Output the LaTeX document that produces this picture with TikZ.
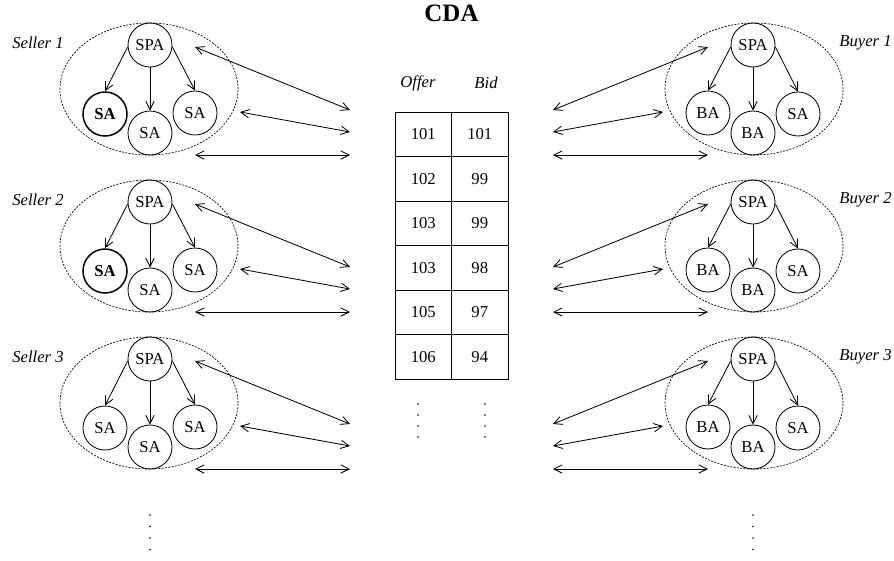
\documentclass[tikz,border=0pt]{standalone}
\usepackage{fontspec}
\setmainfont{Liberation Serif}
\usetikzlibrary{arrows.meta,shapes.geometric}

\tikzset{
  agent/.style={circle,draw,line width=0.5pt,minimum size=26.4pt,inner sep=0pt},
  group/.style={ellipse,draw,line width=0.4pt,dash pattern=on 1.2pt off 0.8pt,
    minimum width=106.8pt,minimum height=79.2pt,inner sep=0pt},
  cell/.style={rectangle,draw,line width=0.5pt,minimum width=33.9pt,minimum height=26.7pt,inner sep=0pt},
  owner/.style={font=\itshape,inner sep=0pt},
  link/.style={<->,line width=0.5pt},
  tree/.style={->,line width=0.5pt}
}

\begin{document}
\begin{tikzpicture}[x=0.6pt,y=-0.6pt,>={Straight Barb[length=5pt,width=5pt]}]
    \useasboundingbox (0,0) rectangle (894,560);

    \node[font=\fontsize{15}{18}\selectfont\bfseries] (title) at (451.5,13) {CDA};

    % order book
    \node[owner] (offer) at (418,83) {Offer};
    \node[owner] (bid) at (486,83) {Bid};
    \foreach \o/\b [count=\r] in {101/101,102/99,103/99,103/98,105/97,106/94} {
        \node[cell] (o\r) at (423.25,89.75+44.5*\r) {\o};
        \node[cell] (b\r) at (479.75,89.75+44.5*\r) {\b};
    }
    \foreach \d in {0,...,3} {
        \fill (418,404+11*\d) circle[radius=0.8];
        \fill (485,404+11*\d) circle[radius=0.8];
    }

    % sellers (left) and buyers (right)
    \foreach \k/\y/\w/\f in {1/45/0.9pt/\bfseries,2/202/0.9pt/\bfseries,3/359/0.5pt/\normalfont} {
        \node[group] (sg\k) at (149,\y+44) {};
        \node[owner,anchor=east] (sl\k) at (64,\y-2) {Seller \k};
        \node[agent] (sspa\k) at (150,\y) {SPA};
        \node[agent,line width=\w,font=\f] (ssa\k-1) at (105,\y+69) {SA};
        \node[agent] (ssa\k-2) at (150,\y+88) {SA};
        \node[agent] (ssa\k-3) at (195,\y+68) {SA};
        \draw[tree] (sspa\k.185) -- (ssa\k-1.north);
        \draw[tree] (sspa\k.south) -- (ssa\k-2.north);
        \draw[tree] (sspa\k.-5) -- (ssa\k-3.north);
        \coordinate (sa\k-1) at (195,\y+2);
        \coordinate (sb\k-1) at (350,\y+65);
        \coordinate (sa\k-2) at (240,\y+67);
        \coordinate (sb\k-2) at (350,\y+87);
        \coordinate (sa\k-3) at (195,\y+110);
        \coordinate (sb\k-3) at (350,\y+110);
        \foreach \j in {1,2,3}
            \draw[link] (sa\k-\j) -- (sb\k-\j);

        \node[group] (bg\k) at (754,\y+44) {};
        \node[owner,anchor=west] (bl\k) at (839,\y-2) {Buyer \k};
        \node[agent] (bspa\k) at (753,\y) {SPA};
        \node[agent] (bba\k-1) at (708,\y+68) {BA};
        \node[agent] (bba\k-2) at (753,\y+88) {BA};
        \node[agent] (bsa\k) at (798,\y+69) {SA};
        \draw[tree] (bspa\k.185) -- (bba\k-1.north);
        \draw[tree] (bspa\k.south) -- (bba\k-2.north);
        \draw[tree] (bspa\k.-5) -- (bsa\k.north);
        \coordinate (ba\k-1) at (708,\y+2);
        \coordinate (bb\k-1) at (553,\y+65);
        \coordinate (ba\k-2) at (663,\y+67);
        \coordinate (bb\k-2) at (553,\y+87);
        \coordinate (ba\k-3) at (708,\y+110);
        \coordinate (bb\k-3) at (553,\y+110);
        \foreach \j in {1,2,3}
            \draw[link] (bb\k-\j) -- (ba\k-\j);
    }

    % more sellers and buyers
    \foreach \d in {0,...,3} {
        \fill (150,515+11.5*\d) circle[radius=0.8];
        \fill (753,515+11.5*\d) circle[radius=0.8];
    }
\end{tikzpicture}
\end{document}
